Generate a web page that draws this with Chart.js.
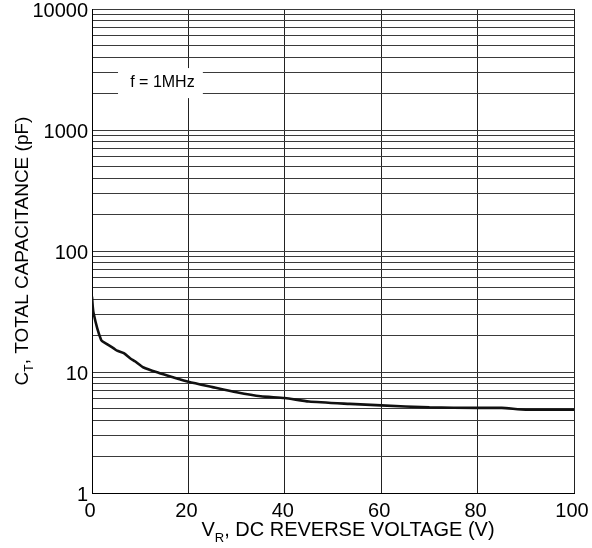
<!DOCTYPE html>
<html>
<head>
<meta charset="utf-8">
<script src="https://cdn.jsdelivr.net/npm/chart.js@4/dist/chart.umd.min.js"></script>
<style>
  html, body { margin: 0; padding: 0; background: #fff; }
  #wrap { width: 592px; height: 548px; }
</style>
</head>
<body>
<div id="wrap"><canvas id="capChart" width="592" height="548"></canvas></div>
<script>
// Capacitance vs reverse voltage
const voltage = [0, 0.3, 1.9, 3.1, 4.5, 5.2, 6.6, 7.9, 9, 10.7, 13.8, 16.6, 20, 25, 30, 35, 40, 45, 53.5, 60, 70, 80, 85, 90, 100];
const capacitance = [42, 31, 18.4, 17, 15.7, 15, 14.3, 13, 12.2, 10.9, 9.85, 9.1, 8.3, 7.5, 6.8, 6.3, 6.1, 5.7, 5.45, 5.3, 5.1, 5.05, 5.05, 4.88, 4.88];

// Axis ticks
const xTicks = [0, 20, 40, 60, 80, 100];
const yLabels = [1, 10, 100, 1000, 10000];
const yMinorSteps = [1, 2, 3, 4, 5, 6, 7, 8, 9];

const fontFamily = '"Liberation Sans", Arial, Helvetica, sans-serif';

// grid lines on every 1..9 of each decade
function logGridValues() {
    const vals = [];
    for (let d = 0; d < yLabels.length - 1; d++) {
        yMinorSteps.forEach(m => vals.push(m * yLabels[d]));
    }
    vals.push(yLabels[yLabels.length - 1]);
    return vals;
}

// text drawn on top: axis titles with subscripts + frequency note
const titlesPlugin = {
    id: 'titles',
    beforeDatasetsDraw(chart) {
        const { ctx, scales: { x, y } } = chart;
        // f = 1MHz note with white background
        const bx1 = x.getPixelForValue(5.4), bx2 = x.getPixelForValue(23);
        const by1 = y.getPixelForValue(3250), by2 = y.getPixelForValue(1835);
        ctx.save();
        ctx.fillStyle = '#fff';
        ctx.fillRect(bx1, by1, bx2 - bx1, by2 - by1);
        ctx.fillStyle = '#000';
        ctx.font = '16px ' + fontFamily;
        ctx.textBaseline = 'middle';
        ctx.textAlign = 'center';
        ctx.fillText('f = 1MHz', (bx1 + bx2) / 2 + 2, (by1 + by2) / 2);
        ctx.restore();
    },
    afterDraw(chart) {
        const { ctx, chartArea } = chart;
        ctx.save();
        ctx.fillStyle = '#000';
        ctx.textBaseline = 'alphabetic';
        ctx.textAlign = 'left';

        // x title: V_R, DC REVERSE VOLTAGE (V)
        const big = '20px ' + fontFamily, small = '13px ' + fontFamily;
        ctx.font = big;
        const w1 = ctx.measureText('V').width;
        const w3 = ctx.measureText(', DC REVERSE VOLTAGE (V)').width;
        ctx.font = small;
        const w2 = ctx.measureText('R').width;
        let cx = (chartArea.left + chartArea.right) / 2 + 15 - (w1 + w2 + w3) / 2;
        const base = chartArea.bottom + 43;
        ctx.font = big;
        ctx.fillText('V', cx, base);
        ctx.font = small;
        ctx.fillText('R', cx + w1, base + 6);
        ctx.font = big;
        ctx.fillText(', DC REVERSE VOLTAGE (V)', cx + w1 + w2, base);

        // y title: C_T, TOTAL CAPACITANCE (pF)
        const bigY = '19px ' + fontFamily, smallY = '12px ' + fontFamily;
        ctx.translate(28, (chartArea.top + chartArea.bottom) / 2);
        ctx.rotate(-Math.PI / 2);
        ctx.font = bigY;
        const u1 = ctx.measureText('C').width;
        const u3 = ctx.measureText(', TOTAL CAPACITANCE (pF)').width;
        ctx.font = smallY;
        const u2 = ctx.measureText('T').width;
        let cy = -(u1 + u2 + u3) / 2;
        ctx.font = bigY;
        ctx.fillText('C', cy, 0);
        ctx.font = smallY;
        ctx.fillText('T', cy + u1, 5);
        ctx.font = bigY;
        ctx.fillText(', TOTAL CAPACITANCE (pF)', cy + u1 + u2, 0);
        ctx.restore();
    }
};

const ctx = document.getElementById('capChart');
new Chart(ctx, {
    type: 'line',
    data: {
        datasets: [{
            label: 'CT',
            data: voltage.map((v, i) => ({ x: v, y: capacitance[i] })),
            borderColor: '#111',
            borderWidth: 2.6,
            pointRadius: 0,
            tension: 0.2,
            fill: false
        }]
    },
    options: {
        responsive: false,
        animation: false,
        devicePixelRatio: 1,
        layout: {
            padding: { left: 0, right: 18, top: 9, bottom: 0 }
        },
        plugins: {
            legend: { display: false },
            tooltip: { enabled: false }
        },
        scales: {
            x: {
                type: 'linear',
                min: 0,
                max: 100,
                afterBuildTicks: scale => {
                    scale.ticks = xTicks.map(v => ({ value: v }));
                },
                afterFit: scale => {
                    scale.height = 55;
                    scale.paddingLeft = 0;
                    scale.paddingRight = 0;
                },
                grid: {
                    color: '#222',
                    lineWidth: 1,
                    drawTicks: false
                },
                border: { display: true, color: '#000', width: 1 },
                ticks: {
                    autoSkip: false,
                    maxRotation: 0,
                    padding: 6,
                    labelOffset: -2,
                    color: '#000',
                    font: { family: fontFamily, size: 20 }
                }
            },
            y: {
                type: 'logarithmic',
                min: 1,
                max: 10000,
                afterBuildTicks: scale => {
                    scale.ticks = logGridValues().map(v => ({ value: v }));
                },
                afterFit: scale => {
                    scale.width = 92;
                    scale.paddingTop = 0;
                    scale.paddingBottom = 0;
                },
                grid: {
                    color: '#3a3a3a',
                    lineWidth: 1,
                    drawTicks: false
                },
                border: { display: true, color: '#000', width: 1 },
                ticks: {
                    autoSkip: false,
                    padding: 4,
                    labelOffset: 2,
                    color: '#000',
                    font: { family: fontFamily, size: 20 },
                    callback: value => yLabels.includes(value) ? String(value) : ''
                }
            }
        }
    },
    plugins: [titlesPlugin]
});
</script>
</body>
</html>
